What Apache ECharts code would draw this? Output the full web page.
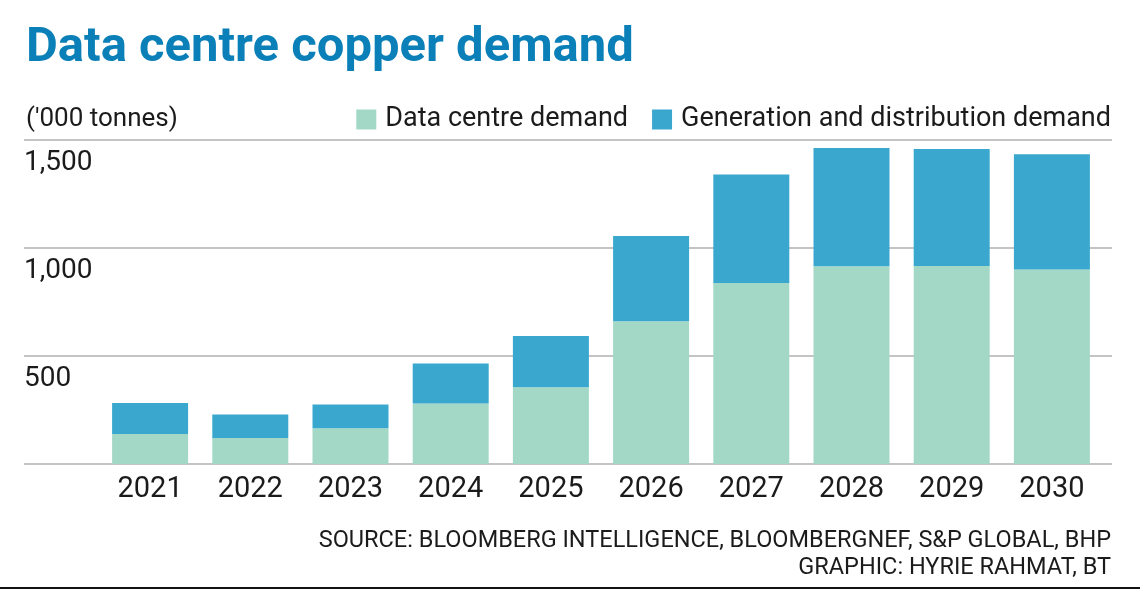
<!DOCTYPE html>
<html>
<head>
<meta charset="utf-8">
<title>Data centre copper demand</title>
<script src="https://cdn.jsdelivr.net/npm/echarts@6/dist/echarts.min.js"></script>
<style>
body {
  margin: 0;
  background: #fff;
}
#chart {
  width: 1140px;
  height: 592px;
}
</style>
</head>
<body>
<div id="chart"></div>
<script>
// values, '000 tonnes
const years = ['2021', '2022', '2023', '2024', '2025', '2026', '2027', '2028', '2029', '2030']
const dataCentre = [139, 120, 165, 280, 355, 661, 838, 915, 917, 900]
const totalDemand = [282, 229, 276, 465, 593, 1056, 1340, 1463, 1458, 1434]
const genDist = totalDemand.map((t, i) => t - dataCentre[i])
const yTicks = [0, 500, 1000, 1500]

const font = 'Roboto, "Noto Sans", sans-serif'
const ink = '#1b1b1b'

const chart = echarts.init(document.getElementById('chart'))

const option = {
  animation: false,
  backgroundColor: '#fff',
  textStyle: { fontFamily: font },
  title: [
    {
      text: 'Data centre copper demand',
      left: 21,
      top: 19,
      textStyle: { fontFamily: font, fontSize: 49, fontWeight: 'bold', color: '#0b80b8' }
    },
    {
      text: "('000 tonnes)",
      left: 21,
      top: 101,
      textStyle: { fontFamily: font, fontSize: 26, fontWeight: 'normal', color: ink }
    },
    {
      text: 'SOURCE: BLOOMBERG INTELLIGENCE, BLOOMBERGNEF, S&P GLOBAL, BHP',
      right: 24,
      top: 524,
      textStyle: { fontFamily: font, fontSize: 23.5, fontWeight: 'normal', color: ink }
    },
    {
      text: 'GRAPHIC: HYRIE RAHMAT, BT',
      right: 24,
      top: 551,
      textStyle: { fontFamily: font, fontSize: 23.5, fontWeight: 'normal', color: ink }
    }
  ],
  legend: {
    right: 24,
    top: 101,
    icon: 'rect',
    itemWidth: 20,
    itemHeight: 20,
    itemGap: 24,
    textStyle: { fontFamily: font, fontSize: 27, color: ink, padding: [0, 0, 0, 4] },
    data: ['Data centre demand', 'Generation and distribution demand']
  },
  grid: [
    // wide grid only for the gridlines and value labels
    { left: 24, right: 28, top: 140, bottom: 128 },
    // narrower grid that holds the bars
    { left: 100, right: 38, top: 140, bottom: 128 }
  ],
  xAxis: [
    { type: 'category', gridIndex: 0, data: years, show: false },
    {
      type: 'category',
      gridIndex: 1,
      data: years,
      axisLine: { show: false },
      axisTick: { show: false },
      axisLabel: { fontFamily: font, fontSize: 29, color: ink, margin: 11 }
    }
  ],
  yAxis: [
    {
      type: 'value',
      gridIndex: 0,
      min: yTicks[0],
      max: yTicks[yTicks.length - 1],
      interval: 500,
      axisLine: { show: false },
      axisTick: { show: false },
      splitLine: { lineStyle: { color: '#c4c4c4', width: 2 } },
      axisLabel: {
        inside: true,
        margin: 0,
        align: 'left',
        verticalAlign: 'top',
        padding: [9, 0, 0, 0],
        fontFamily: font,
        fontSize: 28,
        color: ink,
        formatter: v => (v === 0 ? '' : v.toLocaleString('en-US'))
      }
    },
    {
      type: 'value',
      gridIndex: 1,
      min: yTicks[0],
      max: yTicks[yTicks.length - 1],
      interval: 500,
      show: false
    }
  ],
  series: [
    {
      name: 'Data centre demand',
      type: 'bar',
      stack: 'demand',
      xAxisIndex: 1,
      yAxisIndex: 1,
      barWidth: 76,
      itemStyle: { color: '#a3d8c6' },
      data: dataCentre
    },
    {
      name: 'Generation and distribution demand',
      type: 'bar',
      stack: 'demand',
      xAxisIndex: 1,
      yAxisIndex: 1,
      barWidth: 76,
      itemStyle: { color: '#3aa8ce' },
      data: genDist
    }
  ],
  graphic: [
    {
      type: 'line',
      shape: { x1: 0, y1: 588, x2: 1140, y2: 588 },
      style: { stroke: '#111', lineWidth: 2 }
    }
  ]
}

chart.setOption(option)
</script>
</body>
</html>
